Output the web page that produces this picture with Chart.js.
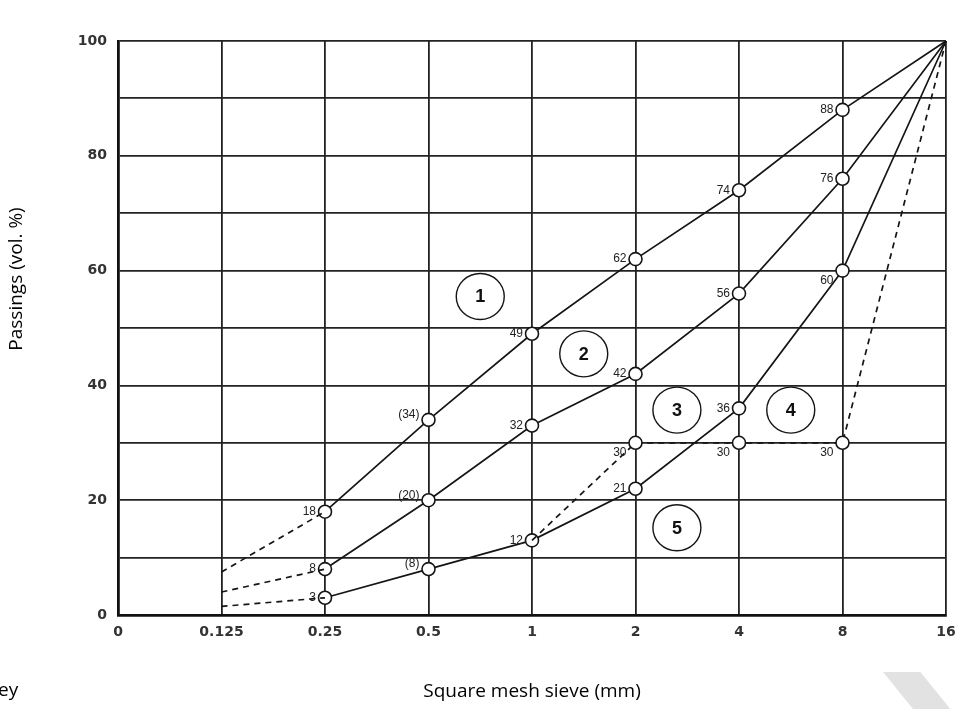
<!DOCTYPE html>
<html>
<head>
<meta charset="utf-8">
<script src="https://cdn.jsdelivr.net/npm/chart.js@4.4.1/dist/chart.umd.min.js"></script>
<style>
    body { margin: 0; background: #fff; }
    #wrap { position: relative; width: 960px; height: 709px; overflow: hidden; }
    #chart { position: absolute; left: 0; top: 0; }
    #cut { position: absolute; left: -2px; top: 676px; font: 19px "Open Sans", sans-serif; color: #000; }
    #mark { position: absolute; left: 850px; top: 670px; width: 110px; height: 40px; background: #e2e2e2;
            clip-path: polygon(30% 5%, 64% 5%, 92% 100%, 58% 100%); }
</style>
</head>
<body>
<div id="wrap">
    <canvas id="chart" width="960" height="709"></canvas>
    <div id="cut">ey</div>
    <div id="mark"></div>
</div>
<script>
const sieves = ['0', '0.125', '0.25', '0.5', '1', '2', '4', '8', '16'];
const yTickLabels = ['0', '20', '40', '60', '80', '100'];
const yTitle = 'Passings (vol. %)';

// grading curves (solid parts)
const curve1 = [null, null, 18, 34, 49, 62, 74, 88, 100];
const curve2 = [null, null, 8, 20, 33, 42, 56, 76, 100];
const curve3 = [null, null, 3, 8, 13, 22, 36, 60, 100];
// extrapolated (dashed) parts below 0.25 mm
const curve1Ext = [null, 7.5, 18];
const curve2Ext = [null, 4, 8];
const curve3Ext = [null, 1.5, 3];
// gap graded curve
const curve4 = [null, null, null, null, 13, 30, 30, 30, 100];

// value labels written next to the points
const labels1 = [null, null, '18', '(34)', '49', '62', '74', '88', null];
const labels2 = [null, null, '8', '(20)', '32', '42', '56', '76', null];
const labels3 = [null, null, '3', '(8)', '12', '21', '36', '60', null];
const labels4 = [null, null, null, null, null, '30', '30', '30', null];

// circled curve numbers
const circleText = ['1', '2', '3', '4', '5'];
const circleX = [3.5, 4.5, 5.4, 6.5, 5.4];
const circleY = [55.5, 45.5, 35.7, 35.7, 15.2];

const ink = '#151515';

function solid(data) {
    return {
        data: data,
        borderColor: ink,
        borderWidth: 1.7,
        pointRadius: data.map((v, i) => (v === null || i === 8) ? 0 : 6.5),
        pointBackgroundColor: '#fff',
        pointBorderColor: ink,
        pointBorderWidth: 1.6,
        tension: 0,
        spanGaps: false,
        clip: false
    };
}

function dashed(data, withPoints) {
    return {
        data: data,
        borderColor: ink,
        borderWidth: 1.7,
        borderDash: [6, 5],
        pointRadius: withPoints ? data.map((v, i) => (i >= 5 && i <= 7) ? 6.5 : 0) : 0,
        pointBackgroundColor: '#fff',
        pointBorderColor: ink,
        pointBorderWidth: 1.6,
        tension: 0,
        clip: false
    };
}

const pointLabels = {
    id: 'pointLabels',
    afterDraw(chart) {
        const ctx = chart.ctx;
        const xs = chart.scales.x, ys = chart.scales.y;
        const sets = [
            [labels1, curve1, 0],
            [labels2, curve2, 0],
            [labels3, curve3, 0],
            [labels4, curve4, 10]
        ];
        ctx.save();
        ctx.font = '12px "Liberation Sans", Arial, sans-serif';
        ctx.fillStyle = '#222';
        ctx.textAlign = 'right';
        ctx.textBaseline = 'middle';
        sets.forEach(([txt, vals, dy]) => {
            txt.forEach((t, i) => {
                if (!t) return;
                const px = xs.getPixelForValue(i);
                const py = ys.getPixelForValue(vals[i]);
                let off = dy;
                if (t.startsWith('(')) off = -5;
                if (t === '60') off = 10;
                ctx.fillText(t, px - 9, py + off);
            });
        });

        // circled numbers
        ctx.font = 'bold 18px "Liberation Sans", Arial, sans-serif';
        ctx.textAlign = 'center';
        ctx.lineWidth = 1.4;
        ctx.strokeStyle = ink;
        circleText.forEach((t, i) => {
            const cx = xs.getPixelForValue(circleX[i]);
            const cy = ys.getPixelForValue(circleY[i]);
            ctx.fillStyle = '#fff';
            ctx.beginPath();
            ctx.ellipse(cx, cy, 24, 23, 0, 0, Math.PI * 2);
            ctx.fill();
            ctx.stroke();
            ctx.fillStyle = '#111';
            ctx.fillText(t, cx, cy + 1);
        });

        // y axis title, placed higher than centre as in the source
        ctx.font = '19px "Open Sans", sans-serif';
        ctx.fillStyle = '#000';
        ctx.translate(17, 279);
        ctx.rotate(-Math.PI / 2);
        ctx.fillText(yTitle, 0, 0);
        ctx.restore();
    }
};

new Chart(document.getElementById('chart'), {
    type: 'line',
    data: {
        labels: sieves,
        datasets: [
            dashed(curve1Ext, false),
            dashed(curve2Ext, false),
            dashed(curve3Ext, false),
            dashed(curve4, true),
            solid(curve1),
            solid(curve2),
            solid(curve3)
        ]
    },
    options: {
        responsive: false,
        animation: false,
        layout: { padding: { left: 0, top: 41, right: 14, bottom: 0 } },
        plugins: { legend: { display: false }, tooltip: { enabled: false } },
        scales: {
            x: {
                offset: false,
                afterFit: s => { s.height = 94; s.paddingLeft = 0; s.paddingRight = 0; },
                grid: { color: '#222', lineWidth: 1.8, drawTicks: false, offset: false },
                border: { color: '#111', width: 2.8 },
                ticks: {
                    padding: 9,
                    maxRotation: 0,
                    autoSkip: false,
                    color: '#333',
                    font: { family: '"DejaVu Sans", sans-serif', size: 14, weight: 'bold' }
                },
                title: {
                    display: true,
                    text: 'Square mesh sieve (mm)',
                    color: '#000',
                    font: { family: '"Open Sans", sans-serif', size: 19 },
                    padding: { top: 0, bottom: 6 }
                }
            },
            y: {
                min: 0,
                max: 100,
                afterFit: s => { s.width = 118; s.paddingTop = 0; s.paddingBottom = 0; },
                grid: { color: '#222', lineWidth: 1.8, drawTicks: false },
                border: { color: '#111', width: 2.8 },
                ticks: {
                    stepSize: 10,
                    padding: 11,
                    color: '#333',
                    font: { family: '"DejaVu Sans", sans-serif', size: 14, weight: 'bold' },
                    callback: v => (v % 20 === 0 ? yTickLabels[v / 20] : '')
                }
            }
        }
    },
    plugins: [pointLabels]
});
</script>
</body>
</html>
